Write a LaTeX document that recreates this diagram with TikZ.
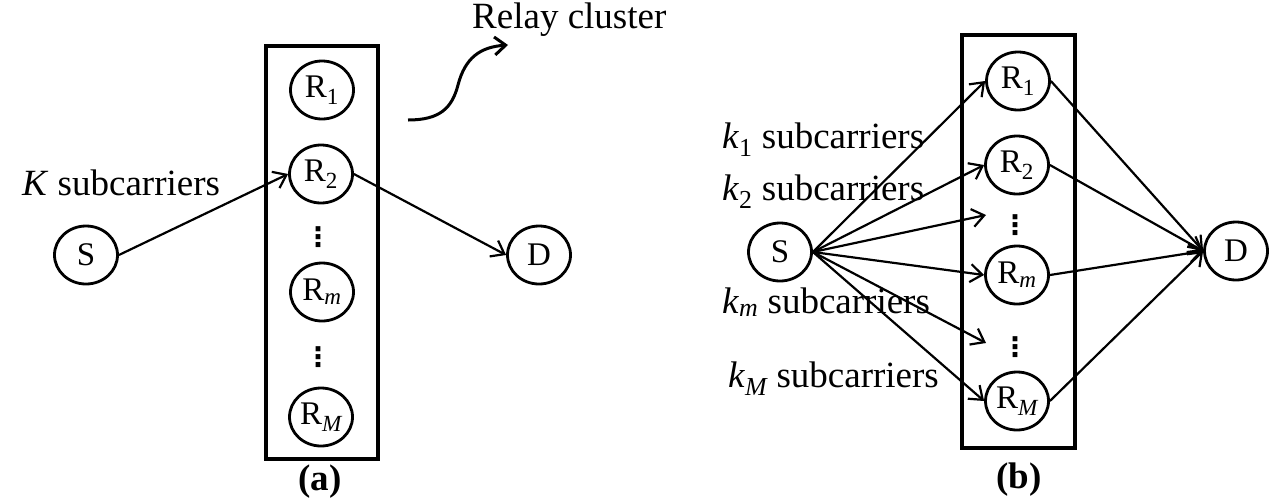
\documentclass[tikz,border=0pt]{standalone}
\usepackage{fontspec}
\setmainfont{Liberation Serif}
\newfontfamily\symfont{DejaVu Sans}
\usetikzlibrary{shapes.geometric,arrows.meta,positioning}

\tikzset{
  relay/.style={draw, ellipse, line width=2.8pt, minimum width=63pt, minimum height=58pt,
    inner sep=0pt, font=\fontsize{33}{33}\selectfont},
  cluster/.style={draw, line width=4pt, inner sep=0pt},
  link/.style={line width=2.2pt, -{Straight Barb[length=12pt,width=18pt,line width=2.2pt]}},
  lab/.style={font=\fontsize{37}{37}\selectfont, anchor=base west, inner sep=0pt},
  panel/.style={font=\fontsize{37}{37}\selectfont\bfseries, inner sep=0pt},
  vd/.style={inner sep=0pt, font=\symfont\bfseries\fontsize{27}{27}\selectfont}
}

\begin{document}
\begin{tikzpicture}[x=1pt, y=-1pt]
    \useasboundingbox (0,0) rectangle (1273,501);

    % ---------- (a): one relay out of the cluster ----------
    \node[cluster, minimum width=112pt, minimum height=413pt] (boxa) at (322,252) {};
    \node[relay] (ra1) at (322,90)  {R\textsubscript{1}};
    \node[relay] (ra2) at (321,174) {R\textsubscript{2}};
    \node[vd]    (dota1) at (318,237) {⋮};
    \node[relay] (ram) at (322,292) {R\textsubscript{\itshape m}};
    \node[vd]    (dota2) at (318,357) {⋮};
    \node[relay] (raM) at (321,417) {R\textsubscript{\itshape M}};

    \node[relay] (sa) at (86,255)  {S};
    \node[relay] (da) at (539,255) {D};

    \draw[link] (sa.east) -- (ra2.west);
    \draw[link] (ra2.east) -- (da.west);

    \node[lab] (ka) at (22,195) {\textit{K} subcarriers};
    \node[panel] (capa) at (320,482) {(a)};

    % curly pointer to the cluster label
    \node[lab] (relaylab) at (472,28) {Relay cluster};
    \coordinate (cs) at (408,120);
    \coordinate (ce) at (508,45);
    \draw[line width=3pt, -{Straight Barb[length=11pt,width=18pt,line width=3pt]}]
      (cs) .. controls (440,120) and (452,108) .. (458,85)
           .. controls (465,58) and (480,47) .. (ce);

    % ---------- (b): subcarriers split over all relays ----------
    \node[cluster, minimum width=113pt, minimum height=413pt] (boxb) at (1018,241.5) {};
    \node[relay] (rb1) at (1018,81)  {R\textsubscript{1}};
    \node[relay] (rb2) at (1017,165) {R\textsubscript{2}};
    \node[vd]    (dotb1) at (1015,225) {⋮};
    \node[relay] (rbm) at (1017,275) {R\textsubscript{\itshape m}};
    \node[vd]    (dotb2) at (1015,347) {⋮};
    \node[relay] (rbM) at (1017,401) {R\textsubscript{\itshape M}};

    \node[relay] (sb) at (780,252)  {S};
    \node[relay] (db) at (1236,251) {D};

    \coordinate (tip1) at (986,215);
    \coordinate (tip2) at (986,343);

    \foreach \r in {rb1, rb2, rbm, rbM} {
        \draw[link] (sb.east) -- (\r.west);
        \draw[link] (\r.east) -- (db.west);
    }
    \draw[link] (sb.east) -- (tip1);
    \draw[link] (sb.east) -- (tip2);

    \node[lab] (kb1) at (722,148) {\textit{k}\textsubscript{1} subcarriers};
    \node[lab] (kb2) at (722,200) {\textit{k}\textsubscript{2} subcarriers};
    \node[lab] (kbm) at (722,313) {\textit{k}\textsubscript{\itshape m} subcarriers};
    \node[lab] (kbM) at (728,387) {\textit{k}\textsubscript{\itshape M} subcarriers};
    \node[panel] (capb) at (1019,480) {(b)};
\end{tikzpicture}
\end{document}
